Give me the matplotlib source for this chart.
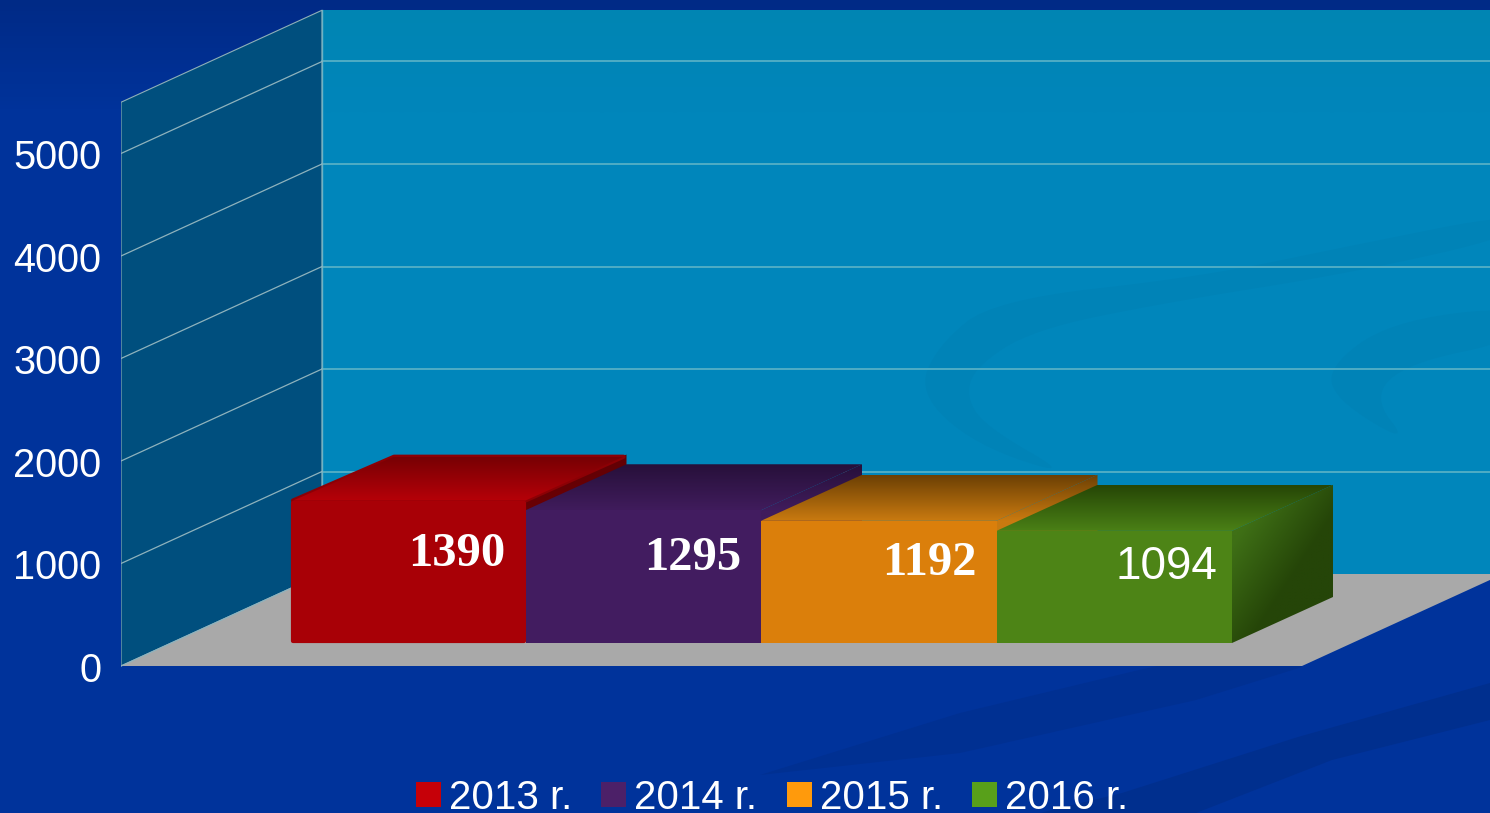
import matplotlib
matplotlib.use("Agg")
import matplotlib.pyplot as plt
from matplotlib.colors import to_rgb
from matplotlib.patches import Polygon, Rectangle
from matplotlib.transforms import ScaledTranslation
import numpy as np

plt.rcParams['font.family'] = ['Liberation Sans', 'DejaVu Sans']

W, H = 1490, 813

# данные
years = ['2013 r.', '2014 r.', '2015 r.', '2016 r.']
values = [1390, 1295, 1192, 1094]
ticks = [0, 1000, 2000, 3000, 4000, 5000]
y_max = 5500

front_colors = ['#a80006', '#421c60', '#db7f0b', '#4d8416']
top_front = ['#b60008', '#401c5c', '#c97a10', '#4a8016']
top_back = ['#780004', '#27103a', '#6c4004', '#264606']
legend_colors = ['#c60008', '#4c2068', '#ff9a0c', '#58a01a']

# геометрия в пикселях картинки
PX_PER_UNIT = 0.1025
ZERO_PX = 666
LEFT_PX = 121
WALL_DX = 201
WALL_DEPTH = 92 / PX_PER_UNIT
BAR_X0 = 290
BAR_W = 235.5
BAR_DX = 101
BAR_DEPTH = 46 / PX_PER_UNIT
BAR_BASE = 23 / PX_PER_UNIT


def px_y(p):
    return (ZERO_PX - p) / PX_PER_UNIT


def grad_fill(ax, verts, img, z):
    verts = np.array(verts)
    patch = Polygon(verts, closed=True, fc='none', ec='none', zorder=z)
    ax.add_patch(patch)
    im = ax.imshow(img, extent=(verts[:, 0].min(), verts[:, 0].max(),
                                verts[:, 1].min(), verts[:, 1].max()),
                   origin='upper', aspect='auto', interpolation='bilinear', zorder=z)
    im.set_clip_path(patch)


def mix(c1, c2, k):
    return np.array(to_rgb(c1))[None, None, :] * (1 - k) + np.array(to_rgb(c2))[None, None, :] * k


def vertical(c_top, c_bottom, n=64):
    return mix(c_top, c_bottom, np.linspace(0, 1, n)[:, None, None])


def smooth(points, rounds=3):
    # срезаем углы, чтобы полоса на стенке была плавной
    pts = np.array(points, dtype=float)
    for _ in range(rounds):
        nxt = np.roll(pts, -1, axis=0)
        pts = np.column_stack([0.75 * pts + 0.25 * nxt, 0.25 * pts + 0.75 * nxt]).reshape(-1, 2)
    return pts


fig = plt.figure(figsize=(W / 100, H / 100), dpi=100)

# фон: заливка и полосы
bg = fig.add_axes([0, 0, 1, 1])
bg.axis('off')
t = np.clip(np.linspace(0, 813, 200) / 110, 0, 1)[:, None, None]
bg.imshow(mix('#002a86', '#00339b', t), extent=(0, W, H, 0), aspect='auto')
bg.set_xlim(0, W)
bg.set_ylim(H, 0)

band1 = [(760, 775), (960, 713), (1139, 670), (1302, 634), (1302, 667), (1196, 700), (960, 753)]
band2 = [(1040, 813), (1122, 793), (1298, 737), (1490, 683), (1490, 720), (1332, 760), (1196, 813)]
bg.add_patch(Polygon(band1, fc='#003092', ec='none'))
bg.add_patch(Polygon(band2, fc='#002f8e', ec='none'))

# оси графика: по x пиксели, по y значения
ax = fig.add_axes([LEFT_PX / W, 0, 1 - LEFT_PX / W, 1], zorder=2)
ax.patch.set_alpha(0)
for s in ax.spines.values():
    s.set_visible(False)

# задняя и боковая стенки, пол
wall_left = LEFT_PX + WALL_DX
ax.add_patch(Polygon([(wall_left, WALL_DEPTH), (W, WALL_DEPTH), (W, y_max + WALL_DEPTH), (wall_left, y_max + WALL_DEPTH)],
                     fc='#0086bb', ec='none', zorder=0.2))
grad_fill(ax, [(wall_left, 4500 + WALL_DEPTH), (W, 4500 + WALL_DEPTH), (W, y_max + WALL_DEPTH), (wall_left, y_max + WALL_DEPTH)],
          vertical('#0085b3', '#0086bb'), 0.3)

swoosh1 = [(1520, 212), (1350, 246), (1200, 277), (994, 300), (938, 345), (918, 393), (975, 445), (1075, 478),
           (986, 427), (966, 397), (975, 367), (1032, 330), (1163, 303), (1351, 273), (1520, 235)]
swoosh2 = [(1520, 305), (1389, 322), (1328, 367), (1336, 400), (1410, 445), (1372, 397), (1407, 363), (1520, 340)]
for sw in (swoosh1, swoosh2):
    ax.add_patch(Polygon(smooth(sw), fc='#0083b7', ec='none', transform=bg.transData, zorder=0.4))

ax.add_patch(Polygon([(LEFT_PX, 0), (wall_left, WALL_DEPTH), (wall_left, y_max + WALL_DEPTH), (LEFT_PX, y_max)],
                     fc='#004f7e', ec='#8fb0b8', lw=0.8, zorder=0.5))
ax.add_patch(Polygon([(LEFT_PX, 0), (1302, 0), (1302 + WALL_DX, WALL_DEPTH), (wall_left, WALL_DEPTH)],
                     fc='#a9a9a9', ec='none', zorder=0.7))

for v in ticks:
    ax.plot([LEFT_PX, wall_left], [v, v + WALL_DEPTH], color='#8fb3bd', lw=0.9, zorder=0.8)
    if v > 0:
        ax.plot([wall_left, W], [v + WALL_DEPTH] * 2, color='#55b0c6', lw=1.3, zorder=0.6)
ax.plot([wall_left, wall_left], [WALL_DEPTH, y_max + WALL_DEPTH], color='#6fb3c4', lw=1, zorder=0.6)

# столбики
for i, val in enumerate(values):
    x0 = BAR_X0 + i * BAR_W
    x1 = x0 + BAR_W
    y0 = BAR_BASE
    y1 = BAR_BASE + val
    z = 3 + i
    front = [(x0, y0), (x1, y0), (x1, y1), (x0, y1)]
    top = [(x0, y1), (x1, y1), (x1 + BAR_DX, y1 + BAR_DEPTH), (x0 + BAR_DX, y1 + BAR_DEPTH)]
    side = [(x1, y0), (x1 + BAR_DX, y0 + BAR_DEPTH), (x1 + BAR_DX, y1 + BAR_DEPTH), (x1, y1)]

    if i == len(values) - 1:
        # правая грань зелёного: светлее у переднего верхнего угла
        yy, xx = np.mgrid[0:1:48j, 0:1:48j]
        k = np.clip(1.45 - 1.2 * xx - 1.25 * yy, 0, 1)[:, :, None]
        grad_fill(ax, side, mix('#254508', '#3f7016', k), z)
    elif i == 0:
        grad_fill(ax, side, vertical('#620004', '#7c0005'), z)
    else:
        # видна только узкая полоса, продолжает градиент верхней грани
        f = BAR_DEPTH / (val + BAR_DEPTH)
        k = np.clip(np.linspace(0, 1, 200) / f, 0, 1)[:, None, None]
        grad_fill(ax, side, mix(top_back[i], top_front[i], k), z)

    if i == 0:
        # у красного скруглённые края
        ins = 2.2 / PX_PER_UNIT
        ax.add_patch(Polygon([(x0 + 3, y1), (x1, y1), (x1 + BAR_DX - 3, y1 + BAR_DEPTH - ins), (x0 + BAR_DX + 3, y1 + BAR_DEPTH - ins)],
                             fc=top_back[i], ec='#8c0005', lw=3, joinstyle='round', zorder=z))
        grad_fill(ax, [(x0 + 3, y1), (x1, y1), (x1 + BAR_DX - 3, y1 + BAR_DEPTH - ins), (x0 + BAR_DX + 3, y1 + BAR_DEPTH - ins)],
                  vertical(top_back[i], top_front[i]), z)
        ax.add_patch(Polygon([(x0 + 3, y0 + ins), (x1 - 2, y0 + ins), (x1 - 2, y1 - ins), (x0 + 3, y1 - ins)],
                             fc=front_colors[i], ec=front_colors[i], lw=3, joinstyle='round', zorder=z))
    else:
        grad_fill(ax, top, vertical(top_back[i], top_front[i]), z)
        ax.add_patch(Polygon(front, fc=front_colors[i], ec='none', zorder=z))

    label_y = BAR_BASE + 0.46 * val + 263 - 3 / PX_PER_UNIT
    if i == len(values) - 1:
        ax.text(x1 - 15, label_y, str(val), color='white', fontsize=33, ha='right', va='center', zorder=20)
    else:
        ax.text(x1 - 20, label_y, str(val), color='white', fontsize=35, fontweight='bold',
                family=['Liberation Serif', 'DejaVu Serif'], ha='right', va='center', zorder=20)

ax.set_xlim(LEFT_PX, W)
ax.set_ylim(px_y(H), px_y(0))
ax.set_xticks([])
ax.set_yticks(ticks)
ax.tick_params(axis='y', length=0, pad=14, labelcolor='white', labelsize=28.6)
for lab in ax.get_yticklabels():
    lab.set_transform(lab.get_transform() + ScaledTranslation(0, -0.9 / 100, fig.dpi_scale_trans))

# легенда
swatch_x = [416, 601, 787, 972]
for sx, name, col in zip(swatch_x, years, legend_colors):
    bg.add_patch(Rectangle((sx, 782), 25, 25, fc=col, ec='none'))
    bg.text(sx + 33, 809, name, color='white', fontsize=29, ha='left', va='baseline', clip_on=False)

fig.savefig('out.png', dpi=100)
